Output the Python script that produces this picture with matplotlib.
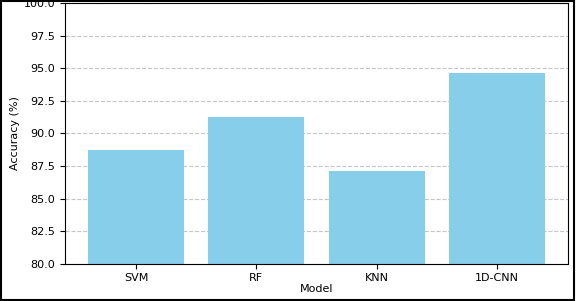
import numpy as np
import matplotlib
matplotlib.use('Agg')
import matplotlib.pyplot as plt
from matplotlib.patches import Rectangle

# accuracy of each model
models = ['SVM', 'RF', 'KNN', '1D-CNN']
accuracy = [88.7, 91.3, 87.1, 94.6]
yticks = [80.0, 82.5, 85.0, 87.5, 90.0, 92.5, 95.0, 97.5, 100.0]

fig = plt.figure(figsize=(5.76, 3.01), dpi=100)
ax = fig.add_axes([0.113, 0.123, 0.873, 0.867])

ax.bar(models, accuracy, color='skyblue', zorder=2)
ax.set_ylim(80, 100)
ax.set_yticks(yticks)
ax.set_yticklabels(['%.1f' % t for t in yticks])
ax.grid(axis='y', linestyle='--', alpha=0.7, zorder=0)
ax.tick_params(labelsize=8)
ax.tick_params(axis='x', pad=3)

ax.set_xlabel('Model', fontsize=8, labelpad=1)
ax.set_ylabel('Accuracy (%)', fontsize=8, labelpad=3)

# black frame round the whole picture
fig.patches.append(Rectangle((0.002, 0.004), 0.994, 0.994, transform=fig.transFigure,
                             fill=False, edgecolor='black', linewidth=1.5))

fig.savefig('out.png', dpi=100)
plt.close(fig)
